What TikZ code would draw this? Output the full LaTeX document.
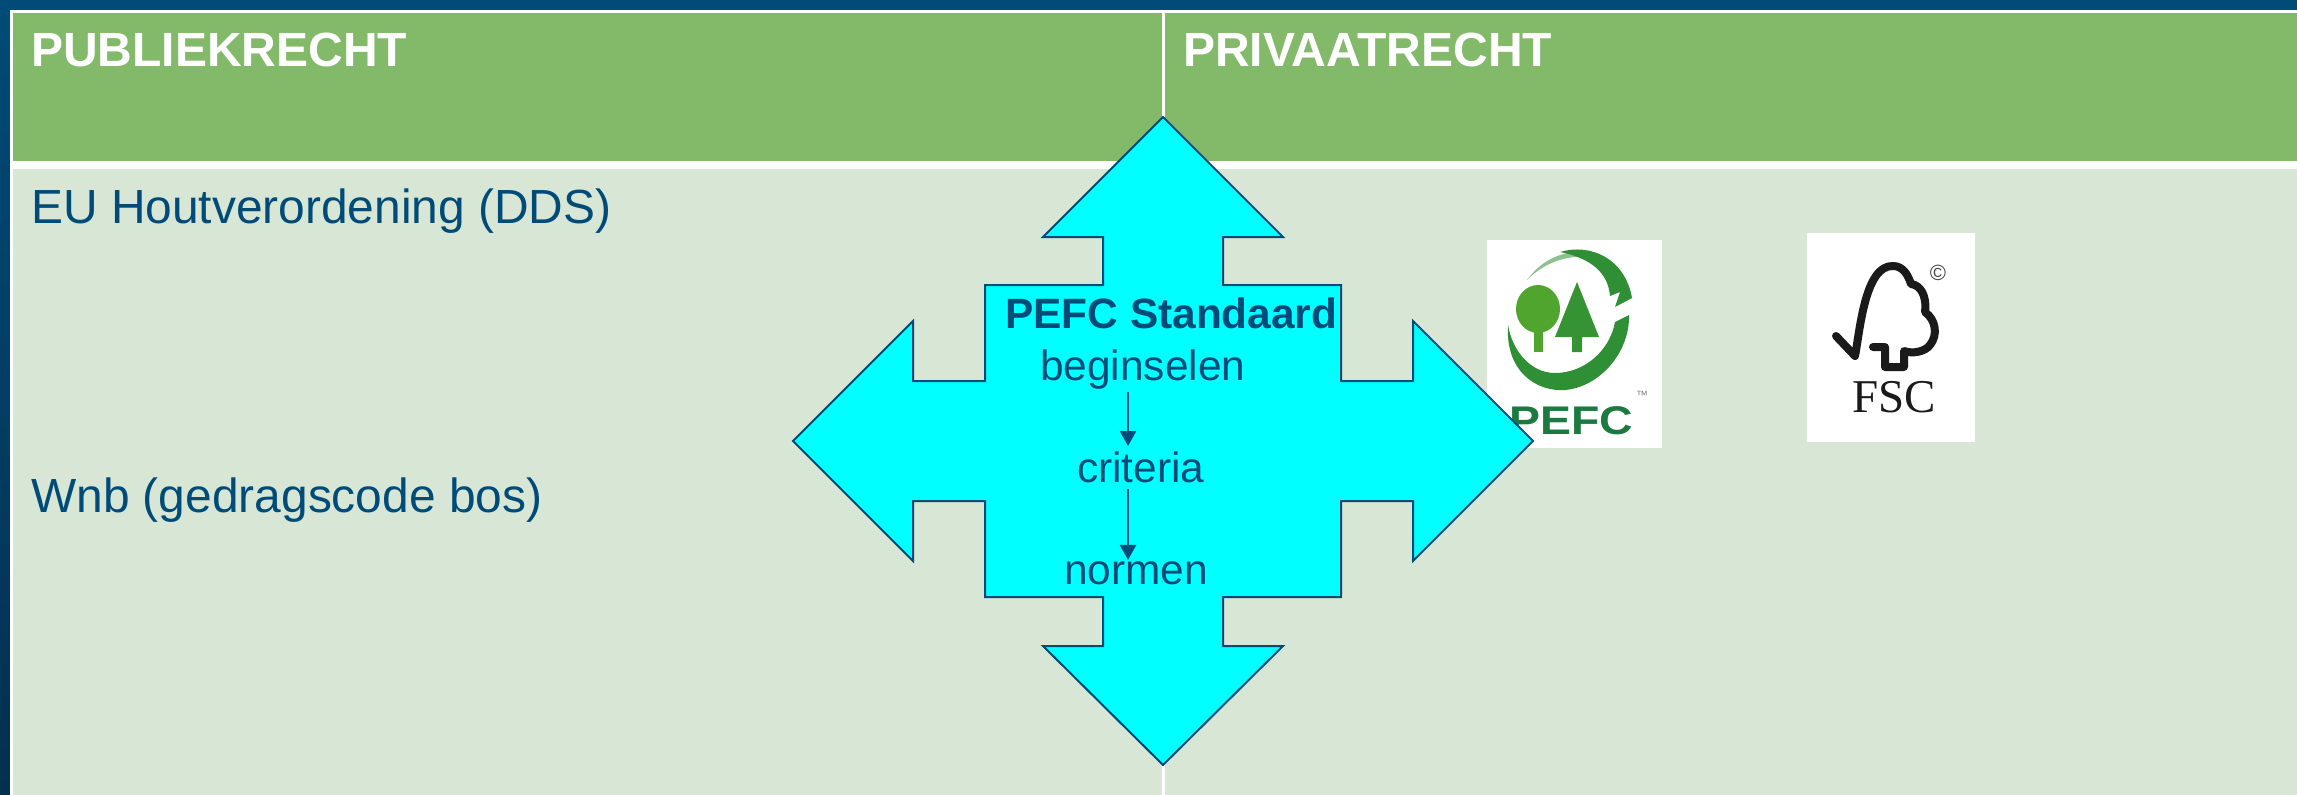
\documentclass[tikz,border=0pt]{standalone}
\usepackage{fontspec}
\setmainfont{Liberation Sans}
\newfontfamily\serifface{Liberation Serif}
\usetikzlibrary{arrows.meta}
\definecolor{navy}{HTML}{004B78}
\definecolor{navydark}{HTML}{03304F}
\definecolor{headgreen}{HTML}{82BA69}
\definecolor{bodygreen}{HTML}{D8E7D5}
\definecolor{crosscyan}{HTML}{00FFFF}
\definecolor{leaf}{HTML}{4FA52D}
\definecolor{ringgreen}{HTML}{2F8F35}
\definecolor{wordgreen}{HTML}{1C7A40}
\definecolor{fscblack}{HTML}{1A1A1A}
\tikzset{
  head/.style={anchor=base west,inner sep=0pt,text=white,font=\fontsize{48}{48}\selectfont\bfseries},
  bodytext/.style={anchor=base west,inner sep=0pt,text=navy,font=\fontsize{47.9}{48}\selectfont},
  crosstext/.style={anchor=base west,inner sep=0pt,text=navy,font=\fontsize{42.4}{42}\selectfont},
  crossshape/.style={draw=navy,fill=crosscyan,line width=2pt,line join=miter},
  flow/.style={draw=navy,line width=2.4pt,-{Triangle[length=15pt,width=16pt]}},
  logobox/.style={fill=white,draw=none},
  fscline/.style={draw=fscblack,line width=8pt,line cap=round,line join=round}
}
\begin{document}
\begin{tikzpicture}[x=1pt,y=-1pt]
\useasboundingbox (0,0) rectangle (2297,795);
% page frame
\fill[navy] (0,0) rectangle (2297,10);
\shade[top color=navy,bottom color=navydark] (0,0) rectangle (10,795);
\fill[white] (9.5,9.5) rectangle (2297,795);
% table
\fill[headgreen] (12.5,12.5) rectangle (2297,161);
\fill[bodygreen] (12.5,169) rectangle (2297,795);
\fill[white] (1161.5,12.5) rectangle (1164.5,795);
\node[head] (pub) at (31,66) {PUBLIEKRECHT};
\node[head] (priv) at (1183,66) {PRIVAATRECHT};
\node[bodytext] (eu) at (31,223) {EU Houtverordening (DDS)};
\node[bodytext] (wnb) at (31,512) {Wnb (gedragscode bos)};
% PEFC logo
\fill[logobox] (1487,240) rectangle (1662,448);
\fill[ringgreen!55!white] (1527,280) .. controls (1545,255) and (1570,250) .. (1590,252) -- (1590,256) .. controls (1565,256) and (1545,262) .. (1527,280) -- cycle;
\fill[ringgreen] (1560,252) .. controls (1590,243) and (1625,258) .. (1632,298) -- (1615,307) -- (1620,292) -- (1610,296) .. controls (1608,272) and (1590,258) .. (1560,252) -- cycle;
\fill[ringgreen] (1508,325) .. controls (1505,370) and (1535,392) .. (1565,390) .. controls (1600,387) and (1630,352) .. (1629,315) -- (1615,322) .. controls (1610,350) and (1585,373) .. (1555,373) .. controls (1530,373) and (1512,350) .. (1508,325) -- cycle;
\fill[leaf] (1538,309) ellipse [x radius=22,y radius=24];
\fill[leaf] (1534,325) rectangle (1543,352);
\fill[ringgreen!80!leaf] (1577,282) -- (1599,337) -- (1582,337) -- (1582,352) -- (1572,352) -- (1572,337) -- (1555,337) -- cycle;
\node[anchor=base,inner sep=0pt,text=wordgreen,font=\fontsize{40}{40}\selectfont\bfseries,xscale=1.16] (pefcword) at (1571,434) {PEFC};
\node[anchor=center,inner sep=0pt,text=gray,font=\fontsize{12}{12}\selectfont] (tm) at (1642,395) {™};
% FSC logo
\fill[logobox] (1807,233) rectangle (1975,442);
\draw[fscline] (1836,336) -- (1855,356) .. controls (1860,330) and (1865,265) .. (1893,266) .. controls (1903,266) and (1908,275) .. (1911,284) .. controls (1920,285) and (1927,295) .. (1925,312) .. controls (1936,320) and (1938,335) .. (1930,345) .. controls (1925,352) and (1912,354) .. (1904,351) -- (1904,367) -- (1885,367) -- (1885,347) -- (1873,347);
\node[anchor=base,inner sep=0pt,text=fscblack,font=\serifface\fontsize{47}{47}\selectfont] (fscword) at (1894.5,412) {FSC};
\node[anchor=center,inner sep=0pt,text=fscblack!80,font=\fontsize{22}{22}\selectfont] (copy) at (1938,273) {©};
% cross
\draw[crossshape] (1163,117) -- (1283,237) -- (1223,237) -- (1223,285) -- (1341,285) -- (1341,381) -- (1413,381) -- (1413,321) -- (1533,441) -- (1413,561) -- (1413,501) -- (1341,501) -- (1341,597) -- (1223,597) -- (1223,646) -- (1283,646) -- (1163,765) -- (1043,646) -- (1103,646) -- (1103,597) -- (985,597) -- (985,501) -- (913,501) -- (913,561) -- (793,441) -- (913,321) -- (913,381) -- (985,381) -- (985,285) -- (1103,285) -- (1103,237) -- (1043,237) -- cycle;
\node[crosstext,font=\fontsize{42.4}{42}\selectfont\bfseries] (std) at (1005,328) {PEFC Standaard};
\node[crosstext] (beg) at (1040,380) {beginselen};
\node[crosstext] (crit) at (1077,482) {criteria};
\node[crosstext] (norm) at (1064,584) {normen};
\coordinate (flowx) at (1128,400);
\draw[flow,shorten <=3pt,shorten >=5pt] (beg.south -| flowx) -- (crit.north -| flowx);
\draw[flow,shorten <=6pt,shorten >=1pt] (crit.south -| flowx) -- (norm.north -| flowx);
\end{tikzpicture}
\end{document}
